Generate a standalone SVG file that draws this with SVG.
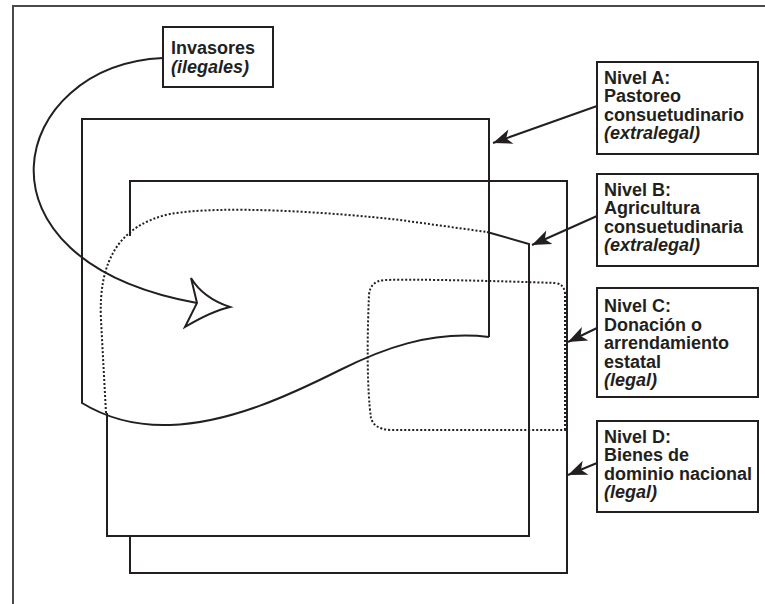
<svg xmlns="http://www.w3.org/2000/svg" width="765" height="604" viewBox="0 0 765 604">
<style>
.ln{fill:none;stroke:#231f20;stroke-width:2;stroke-linejoin:miter}
.dot{fill:none;stroke:#231f20;stroke-width:2;stroke-dasharray:2 2}
.box{fill:#fff;stroke:#231f20;stroke-width:2}
.t{font-family:"Liberation Sans",Arial,sans-serif;font-size:18px;font-weight:bold;fill:#231f20}
.i{font-style:italic}
</style>
<defs>
<marker id="ah" viewBox="-20 -9 22 18" markerWidth="22" markerHeight="18" refX="0" refY="0" orient="auto" markerUnits="userSpaceOnUse">
<path d="M0,0 L-19,-7.5 L-14,0 L-19,7.5 Z" fill="#231f20"/>
</marker>
</defs>
<rect width="765" height="604" fill="#fff"/>
<path d="M13,604 L13,6 L765,6" fill="none" stroke="#4a4a4a" stroke-width="2"/>

<g id="nivelD-area">
<path class="ln" d="M130,236 L130,181 L567,181 L567,573 L130,573 L130,536"/>
</g>
<g id="nivelB-area">
<path class="dot" d="M106,413 L101,320 C98,260 120,225 170,214 C220,205 330,212 400,220 L487,232"/>
<path class="ln" d="M487,232 L529,244 L529,536 L107,536 L107,413"/>
</g>
<g id="nivelC-area">
<path class="dot" d="M565,430 L565,293 Q564,284 555,283 C500,281 420,279 385,280 Q370,281 369,295 C367,340 367,390 371,418 Q374,429 390,430 Z"/>
</g>
<g id="nivelA-area">
<path class="ln" d="M489,337 L489,119 L82,119 L82,403 C110,420 140,426 170,425 C230,423 290,395 340,370 C380,350 430,330 489,337"/>
</g>

<g id="connectors">
<path class="ln" d="M163,58 C10,65 -40,260 197,303"/>
<path class="ln" d="M197,303 L191,278 Q203,298 230,307 Q212,311 185,327 Z" fill="#fff" style="fill:#fff"/>
<line class="ln" x1="597" y1="106" x2="493" y2="143" marker-end="url(#ah)"/>
<line class="ln" x1="597" y1="216" x2="532" y2="245" marker-end="url(#ah)"/>
<line class="ln" x1="597" y1="328" x2="568" y2="342" marker-end="url(#ah)"/>
<line class="ln" x1="597" y1="463" x2="568" y2="475" marker-end="url(#ah)"/>
</g>

<g id="invasores">
<rect class="box" x="163" y="27" width="110" height="60"/>
<text class="t" x="171" y="54">Invasores</text>
<text class="t i" x="171" y="72.5">(ilegales)</text>
</g>
<g id="nivelA">
<rect class="box" x="597" y="62" width="161" height="92"/>
<text class="t" x="604"><tspan x="604" y="83.5">Nivel A:</tspan><tspan x="604" y="102">Pastoreo</tspan><tspan x="604" y="120.5">consuetudinario</tspan><tspan class="i" x="604" y="139">(extralegal)</tspan></text>
</g>
<g id="nivelB">
<rect class="box" x="597" y="174" width="161" height="92"/>
<text class="t" x="604"><tspan x="604" y="195.5">Nivel B:</tspan><tspan x="604" y="214">Agricultura</tspan><tspan x="604" y="232.5">consuetudinaria</tspan><tspan class="i" x="604" y="251">(extralegal)</tspan></text>
</g>
<g id="nivelC">
<rect class="box" x="597" y="288" width="161" height="109"/>
<text class="t" x="604"><tspan x="604" y="312">Nivel C:</tspan><tspan x="604" y="330.5">Donación o</tspan><tspan x="604" y="349">arrendamiento</tspan><tspan x="604" y="367.5">estatal</tspan><tspan class="i" x="604" y="386">(legal)</tspan></text>
</g>
<g id="nivelD">
<rect class="box" x="597" y="421" width="161" height="91"/>
<text class="t" x="604"><tspan x="604" y="442.5">Nivel D:</tspan><tspan x="604" y="461">Bienes de</tspan><tspan x="604" y="479.5">dominio nacional</tspan><tspan class="i" x="604" y="498">(legal)</tspan></text>
</g>
</svg>
